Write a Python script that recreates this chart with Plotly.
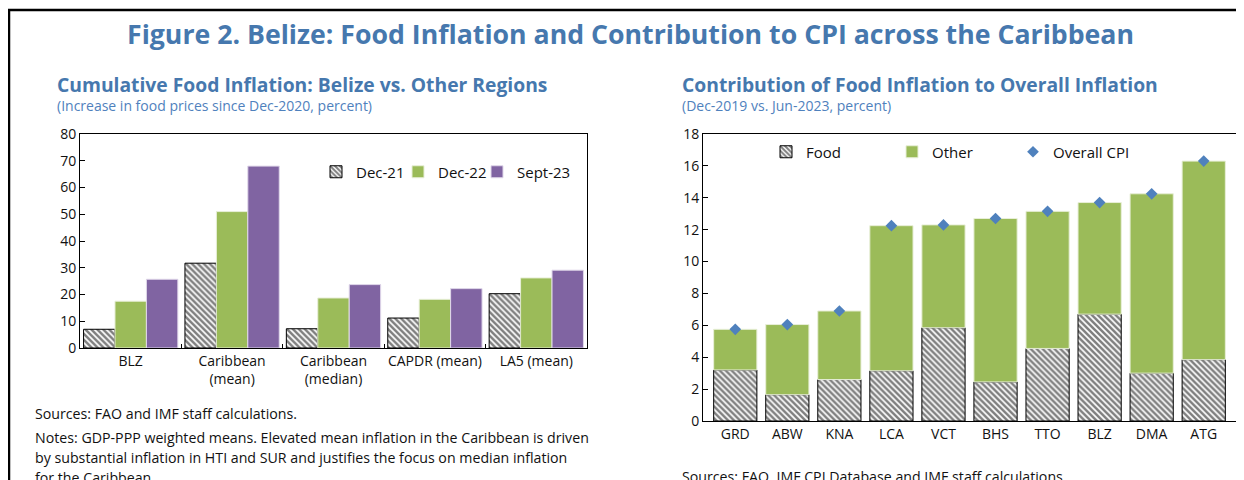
import plotly.graph_objects as go

# ---------------- data ----------------
left_categories = ["BLZ", "Caribbean<br>(mean)", "Caribbean<br>(median)", "CAPDR (mean)", "LA5 (mean)"]
dec21 = [7.0, 31.7, 7.2, 11.2, 20.3]
dec22 = [17.5, 51.0, 18.7, 18.2, 26.2]
sept23 = [25.7, 68.0, 23.7, 22.2, 29.1]

right_categories = ["GRD", "ABW", "KNA", "LCA", "VCT", "BHS", "TTO", "BLZ", "DMA", "ATG"]
food = [3.2, 1.65, 2.6, 3.15, 5.85, 2.45, 4.55, 6.7, 3.0, 3.85]
other = [2.55, 4.4, 4.3, 9.1, 6.45, 10.25, 8.6, 7.0, 11.25, 12.45]
overall_cpi = [5.75, 6.05, 6.9, 12.25, 12.3, 12.7, 13.15, 13.7, 14.25, 16.3]

left_yticks = [0, 10, 20, 30, 40, 50, 60, 70, 80]
right_yticks = [0, 2, 4, 6, 8, 10, 12, 14, 16, 18]

# ---------------- style ----------------
W, H = 1244, 480
OFF = 8  # page body margin offset
FONT = "Open Sans"
TITLE_BLUE = "#4678AE"
SUB_BLUE = "#4F81BD"
GREEN = "#9BBB59"
PURPLE = "#8064A2"
DIAMOND = "#4F81BD"

def px_x(x):
    return (x - OFF) / W

def px_y(y):
    return 1 - (y - OFF) / H

hatch = dict(shape="\\", fgcolor="black", bgcolor="white", size=4.2, solidity=0.6)

fig = go.Figure()

# left chart
fig.add_trace(go.Bar(x=left_categories, y=dec21, name="Dec-21", xaxis="x", yaxis="y",
                     marker=dict(color="white", pattern=hatch, line=dict(color="black", width=1)),
                     legend="legend"))
fig.add_trace(go.Bar(x=left_categories, y=dec22, name="Dec-22", xaxis="x", yaxis="y",
                     marker=dict(color=GREEN, line=dict(color="#E8EFD8", width=1)),
                     legend="legend2"))
fig.add_trace(go.Bar(x=left_categories, y=sept23, name="Sept-23", xaxis="x", yaxis="y",
                     marker=dict(color=PURPLE, line=dict(color="#E0D8EA", width=1)),
                     legend="legend3"))

# right chart
fig.add_trace(go.Bar(x=right_categories, y=food, name="Food", xaxis="x2", yaxis="y2",
                     offsetgroup="r", width=0.83,
                     marker=dict(color="white", pattern=hatch, line=dict(color="black", width=1)),
                     legend="legend4"))
fig.add_trace(go.Bar(x=right_categories, y=other, base=food, name="Other", xaxis="x2", yaxis="y2",
                     offsetgroup="r", width=0.83,
                     marker=dict(color=GREEN, line=dict(color="#E8EFD8", width=1)),
                     legend="legend5"))
fig.add_trace(go.Scatter(x=right_categories, y=overall_cpi, name="Overall CPI", xaxis="x2", yaxis="y2",
                         mode="markers", marker=dict(symbol="diamond", size=9, color=DIAMOND),
                         legend="legend6"))

axis_common = dict(showline=True, linecolor="black", linewidth=1, mirror=True,
                   showgrid=False, zeroline=False, automargin=False,
                   tickfont=dict(family=FONT, size=14, color="#111111"))

def legend_at(x, y):
    return dict(orientation="h", x=px_x(x), y=px_y(y), xanchor="left", yanchor="middle",
                bgcolor="rgba(0,0,0,0)", font=dict(family=FONT, size=15, color="#111111"),
                itemwidth=30)

fig.update_layout(
    width=W, height=H, autosize=False,
    margin=dict(l=0, r=0, t=0, b=0, autoexpand=False),
    paper_bgcolor="white", plot_bgcolor="white",
    barmode="group", bargap=0.07, bargroupgap=0,
    font=dict(family=FONT, size=14, color="#111111"),
    xaxis=dict(domain=[px_x(80), px_x(587)], anchor="y", ticks="inside", tickson="boundaries",
               ticklen=4, tickcolor="black", tickangle=0, **axis_common),
    yaxis=dict(domain=[px_y(348), px_y(134)], anchor="x", range=[0, 80], tickvals=left_yticks,
               ticks="inside", ticklen=5, tickcolor="black", **axis_common),
    xaxis2=dict(domain=[px_x(703), px_x(1236)], anchor="y2", ticks="", tickangle=0, **axis_common),
    yaxis2=dict(domain=[px_y(421), px_y(134)], anchor="x2", range=[0, 18], tickvals=right_yticks,
                ticks="inside", ticklen=5, tickcolor="black", **axis_common),
    legend=legend_at(316, 172),
    legend2=legend_at(398, 172),
    legend3=legend_at(477, 172),
    legend4=legend_at(766, 152),
    legend5=legend_at(892, 152),
    legend6=legend_at(1013, 152),
    showlegend=True,
)

def text(x, y, s, size, color="#111111", bold=False, anchor="left"):
    fig.add_annotation(x=px_x(x), y=px_y(y), xref="paper", yref="paper", text=s,
                       showarrow=False, xanchor=anchor, yanchor="middle",
                       font=dict(family=FONT, size=size, color=color,
                                 weight="bold" if bold else "normal"))

text(630, 33, "Figure 2. Belize: Food Inflation and Contribution to CPI across the Caribbean", 26.7,
     TITLE_BLUE, bold=True, anchor="center")
text(55, 84, "Cumulative Food Inflation: Belize vs. Other Regions", 19.3, TITLE_BLUE, bold=True)
text(55, 105, "(Increase in food prices since Dec-2020, percent)", 14, SUB_BLUE)
text(680, 84, "Contribution of Food Inflation to Overall Inflation", 19.3, TITLE_BLUE, bold=True)
text(680, 105, "(Dec-2019 vs. Jun-2023, percent)", 14, SUB_BLUE)

text(33, 413, "Sources: FAO and IMF staff calculations.", 14.2)
text(33, 437, "Notes: GDP-PPP weighted means. Elevated mean inflation in the Caribbean is driven", 14.2)
text(33, 457, "by substantial inflation in HTI and SUR and justifies the focus on median inflation", 14.2)
text(33, 477, "for the Caribbean.", 14.2)
text(680, 476, "Sources: FAO, IMF CPI Database and IMF staff calculations.", 14.2)

# outer frame
fig.add_shape(type="rect", xref="paper", yref="paper", x0=1 / W, x1=1.05, y0=-0.1, y1=px_y(10),
              line=dict(color="black", width=2.5), fillcolor="rgba(0,0,0,0)", layer="above")

fig.write_html("out.html")
